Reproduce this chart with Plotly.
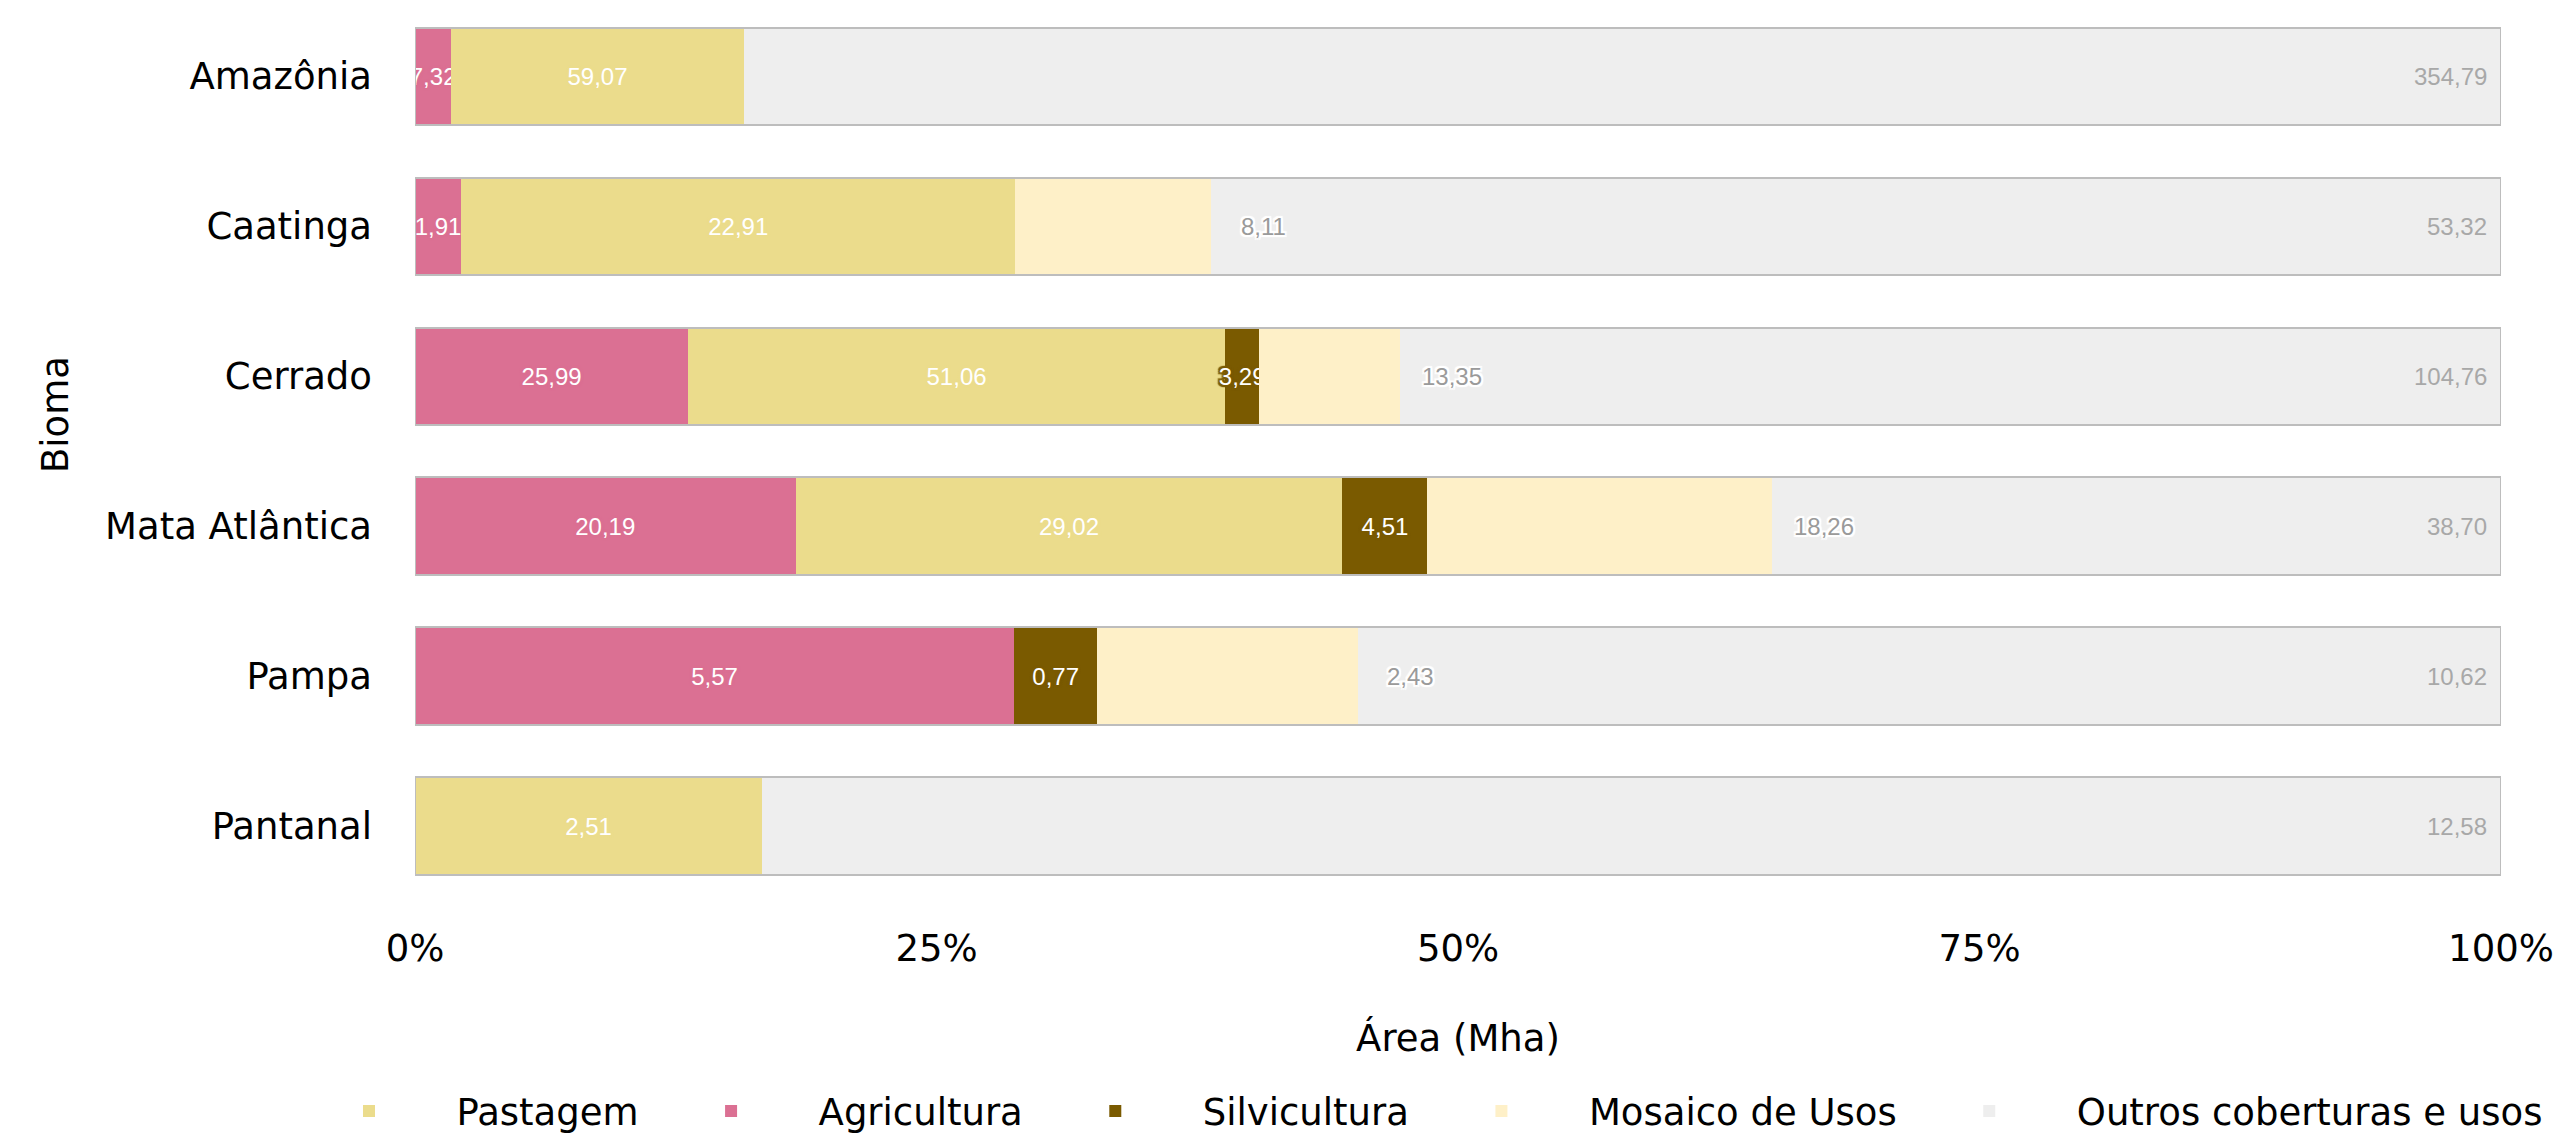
import plotly.graph_objects as go

categories = ["Amazônia", "Caatinga", "Cerrado", "Mata Atlântica", "Pampa", "Pantanal"]
agricultura = [7.32, 1.91, 25.99, 20.19, 5.57, 0]
pastagem = [59.07, 22.91, 51.06, 29.02, 0, 2.51]
silvicultura = [0, 0, 3.29, 4.51, 0.77, 0]
mosaico = [0, 8.11, 13.35, 18.26, 2.43, 0]
outros = [354.79, 53.32, 104.76, 38.70, 10.62, 12.58]
x_ticks = [0, 25, 50, 75, 100]
x_ticktext = ["0%", "25%", "50%", "75%", "100%"]

series = [
    ("Agricultura", agricultura, "#DB7093", 2),
    ("Pastagem", pastagem, "#EBDC8C", 1),
    ("Silvicultura", silvicultura, "#7A5A00", 3),
    ("Mosaico de Usos", mosaico, "#FEF0C8", 4),
    ("Outros coberturas e usos", outros, "#EEEEEE", 5),
]

def fmt(v):
    return f"{v:.2f}".replace(".", ",")

def halo(c, r=2):
    parts = []
    for dx in (-r, 0, r):
        for dy in (-r, 0, r):
            if dx or dy:
                parts.append(f"{dx}px {dy}px 1px {c}")
    return ", ".join(parts)

LABEL_FONT = "Liberation Sans, Arial, sans-serif"
MAIN_FONT = "DejaVu Sans"

fig = go.Figure()
for name, vals, col, rank in series:
    centered = name in ("Agricultura", "Pastagem", "Silvicultura")
    txt = [fmt(v) if (v > 0 and centered) else "" for v in vals]
    fig.add_trace(go.Bar(
        name=name, y=categories, x=vals, orientation="h",
        marker=dict(color=col, line=dict(width=0)),
        text=txt, textposition="inside", insidetextanchor="middle",
        textangle=0, constraintext="none",
        textfont=dict(family=LABEL_FONT, size=24, color="white", shadow=halo(col)),
        legendrank=rank, hoverinfo="skip",
    ))

# outline around each full bar
fig.add_trace(go.Bar(
    y=categories, x=[100] * len(categories), orientation="h", xaxis="x2",
    marker=dict(color="rgba(0,0,0,0)", line=dict(color="#bdbdbd", width=2)),
    showlegend=False, hoverinfo="skip",
))

annotations = []
for i, cat in enumerate(categories):
    total = agricultura[i] + pastagem[i] + silvicultura[i] + mosaico[i] + outros[i]
    cum_mos = (agricultura[i] + pastagem[i] + silvicultura[i] + mosaico[i]) / total * 100
    if mosaico[i] > 0:
        annotations.append(dict(
            x=cum_mos + 2.5, y=cat, xref="x", yref="y", text=fmt(mosaico[i]),
            showarrow=False, xanchor="center",
            font=dict(family=LABEL_FONT, size=24, color="#9a9a9a", shadow=halo("white")),
        ))
    annotations.append(dict(
        x=100, y=cat, xref="x", yref="y", text=fmt(outros[i]),
        showarrow=False, xanchor="right", xshift=-12,
        font=dict(family=LABEL_FONT, size=24, color="#a8a8a8"),
    ))

annotations.append(dict(
    text="Bioma", textangle=-90, xref="paper", yref="paper",
    x=-0.172, y=0.545, xanchor="center", yanchor="middle", showarrow=False,
    font=dict(family=MAIN_FONT, size=37, color="black"),
))

fig.update_layout(
    barmode="stack", barnorm="percent", bargap=0.35,
    width=2570, height=1136,
    margin=dict(l=407, r=77, t=1, b=237),
    paper_bgcolor="white", plot_bgcolor="white",
    font=dict(family=MAIN_FONT, size=37, color="black"),
    annotations=annotations,
    xaxis=dict(
        range=[0, 100], tickmode="array", tickvals=x_ticks, ticktext=x_ticktext,
        showgrid=False, zeroline=False, showline=False,
        ticks="", ticklabelstandoff=22,
        title=dict(text="Área (Mha)", standoff=56, font=dict(size=37)),
        tickfont=dict(size=37),
    ),
    xaxis2=dict(range=[0, 100], overlaying="x", visible=False),
    yaxis=dict(
        categoryorder="array", categoryarray=categories,
        range=[5.5, -0.45], showgrid=False, zeroline=False, showline=False,
        ticks="", ticklabelstandoff=42, tickfont=dict(size=37),
    ),
    legend=dict(
        orientation="h", x=-0.064, xanchor="left", y=-0.236, yanchor="middle",
        font=dict(size=37), traceorder="normal", itemwidth=165,
    ),
    uniformtext=dict(minsize=24, mode="show"),
)

fig.write_html("out.html")
